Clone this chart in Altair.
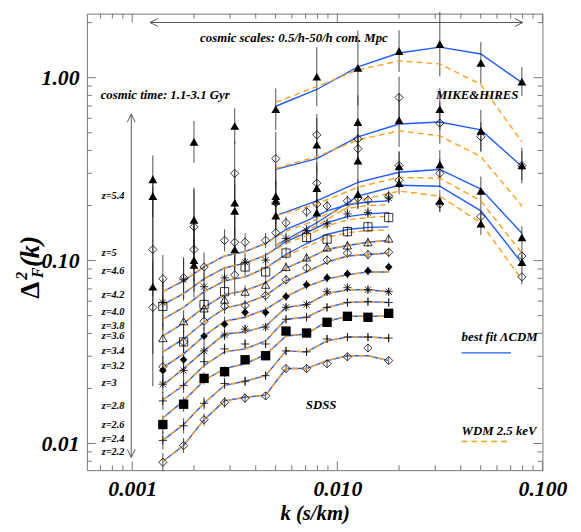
import altair as alt
import pandas as pd

W, H = 462, 463
FONT = "Liberation Serif"
BLUE = "#1f5cff"
ORANGE = "#ff9f1a"

# ---------------- k values ----------------
K_SDSS = [0.00141, 0.00178, 0.00224, 0.00282, 0.00355, 0.00447,
          0.00562, 0.00708, 0.00891, 0.0112, 0.0141, 0.0178]
K_HR = [0.00126, 0.00200, 0.00316, 0.00501, 0.00794,
        0.0126, 0.0200, 0.0316, 0.0501, 0.0794]
K_HR_MODEL = [0.00501, 0.00794, 0.0126, 0.0200, 0.0316, 0.0501, 0.0794]

# ---------------- SDSS models (best fit LCDM) ----------------
LCDM_Z22 = [0.0080, 0.00975, 0.0135, 0.0171, 0.0179, 0.0184, 0.0257, 0.0257, 0.0284, 0.0302, 0.0302, 0.0284]
LCDM_Z24 = [0.0104, 0.0127, 0.0166, 0.0208, 0.0219, 0.0235, 0.0321, 0.0317, 0.0364, 0.0382, 0.0382, 0.0377]
LCDM_Z26 = [0.0138, 0.0171, 0.0221, 0.0257, 0.0273, 0.0306, 0.0387, 0.0397, 0.0466, 0.0496, 0.0496, 0.0496]
LCDM_Z28 = [0.0173, 0.0208, 0.0267, 0.0317, 0.0329, 0.0364, 0.0478, 0.0490, 0.0555, 0.0590, 0.0597, 0.0590]
LCDM_Z30 = [0.0208, 0.0257, 0.0321, 0.0397, 0.0407, 0.0438, 0.0555, 0.0575, 0.0660, 0.0693, 0.0693, 0.0676]
LCDM_Z32 = [0.0260, 0.0309, 0.0387, 0.0466, 0.0490, 0.0541, 0.0636, 0.0720, 0.0795, 0.0835, 0.0867, 0.0867]
LCDM_Z34 = [0.0317, 0.0373, 0.0460, 0.0548, 0.0583, 0.0644, 0.0775, 0.0867, 0.0981, 0.106, 0.108, 0.110]
LCDM_Z36 = [0.0387, 0.0455, 0.0555, 0.0652, 0.0685, 0.0756, 0.0911, 0.102, 0.115, 0.121, 0.126, 0.129]
LCDM_Z38 = [0.0478, 0.0555, 0.0676, 0.0775, 0.0815, 0.0911, 0.108, 0.124, 0.139, 0.148, 0.152, 0.153]
LCDM_Z40 = [0.0575, 0.0660, 0.0795, 0.0911, 0.0969, 0.107, 0.127, 0.142, 0.161, 0.174, 0.180, 0.183]
LCDM_Z42 = [0.0676, 0.0775, 0.0923, 0.106, 0.112, 0.124, 0.148, 0.165, 0.187, 0.202, 0.209, 0.212]

# SDSS models (WDM 2.5 keV) - almost identical, small suppression at high z
WDM_Z38 = [0.0478, 0.0555, 0.0676, 0.0775, 0.0815, 0.0911, 0.106, 0.119, 0.134, 0.142, 0.146, 0.147]
WDM_Z40 = [0.0575, 0.0660, 0.0795, 0.0911, 0.0969, 0.107, 0.124, 0.137, 0.155, 0.167, 0.172, 0.175]
WDM_Z42 = [0.0676, 0.0775, 0.0923, 0.106, 0.112, 0.124, 0.145, 0.159, 0.180, 0.193, 0.200, 0.202]

# ---------------- MIKE & HIRES models ----------------
LCDM_HR_Z54 = [0.698, 0.862, 1.146, 1.364, 1.469, 1.347, 0.940]
LCDM_HR_Z50 = [0.315, 0.361, 0.475, 0.558, 0.572, 0.518, 0.327]
LCDM_HR_Z46 = [0.176, 0.212, 0.268, 0.304, 0.315, 0.246, 0.141]
LCDM_HR_Z42 = [0.121, 0.161, 0.225, 0.258, 0.255, 0.187, 0.0969]
WDM_HR_Z54 = [0.733, 0.894, 1.104, 1.235, 1.190, 0.917, 0.446]
WDM_HR_Z50 = [0.319, 0.370, 0.457, 0.512, 0.481, 0.370, 0.199]
WDM_HR_Z46 = [0.176, 0.204, 0.252, 0.285, 0.282, 0.212, 0.110]
WDM_HR_Z42 = [0.121, 0.155, 0.212, 0.240, 0.225, 0.161, 0.0785]

# ---------------- SDSS data points ----------------
SDSS_Z22 = [0.0079, 0.00975, 0.0135, 0.0168, 0.0177, 0.0182, 0.0257, 0.0257, 0.0273, 0.0298, 0.0333, 0.0284]
SDSS_Z24 = [0.0104, 0.0125, 0.0166, 0.0213, 0.0219, 0.0235, 0.0321, 0.0317, 0.0373, 0.0382, 0.0382, 0.0377]
SDSS_Z26 = [0.0127, 0.0164, 0.0227, 0.0247, 0.0287, 0.0302, 0.0412, 0.0402, 0.0460, 0.0496, 0.0490, 0.0515]
SDSS_Z28 = [0.0171, 0.0208, 0.0280, 0.0329, 0.0350, 0.0350, 0.0478, 0.0490, 0.0555, 0.0590, 0.0597, 0.0590]
SDSS_Z30 = [0.0211, 0.0251, 0.0321, 0.0392, 0.0422, 0.0433, 0.0555, 0.0575, 0.0676, 0.0711, 0.0693, 0.0676]
SDSS_Z32 = [0.0251, 0.0287, 0.0387, 0.0449, 0.0521, 0.0521, 0.0636, 0.0738, 0.0805, 0.0846, 0.0878, 0.0923]
SDSS_Z34 = [0.0263, 0.0359, 0.0466, 0.0562, 0.0568, 0.0644, 0.0785, 0.0911, 0.1006, 0.110, 0.108, 0.111]
SDSS_Z36 = [0.0377, 0.0466, 0.0548, 0.0612, 0.0676, 0.0738, 0.0923, 0.104, 0.118, 0.121, 0.126, 0.132]
SDSS_Z38 = [0.0562, 0.0359, 0.0575, 0.0676, 0.0923, 0.0867, 0.110, 0.134, 0.131, 0.144, 0.153, 0.172]
SDSS_Z40 = [0.0590, 0.0785, 0.0720, 0.0805, 0.0981, 0.1006, 0.132, 0.146, 0.159, 0.180, 0.183, 0.220]
SDSS_Z42 = [0.0795, 0.0805, 0.0923, 0.129, 0.126, 0.129, 0.161, 0.185, 0.199, 0.212, 0.214, 0.225]
# relative 1-sigma errors
SDSS_ERR_LOW_Z = [0.12, 0.10, 0.08, 0.07, 0.06, 0.05, 0.05, 0.05, 0.05, 0.05, 0.05, 0.05]
SDSS_ERR_MID_Z = [0.20, 0.15, 0.12, 0.10, 0.08, 0.07, 0.06, 0.06, 0.06, 0.06, 0.06, 0.06]
SDSS_ERR_HIGH_Z = [0.35, 0.30, 0.20, 0.15, 0.12, 0.10, 0.08, 0.07, 0.07, 0.07, 0.07, 0.07]

# ---------------- HIRES (filled triangles) & MIKE (open diamonds) ----------------
HIRES_Z54 = [0.278, 0.446, 0.544, 0.672, 1.012, 1.132, 1.398, 1.525, 1.205, 0.951]
HIRES_Z50 = [0.225, 0.167, 0.207, 0.225, 0.430, 0.572, 0.586, 0.672, 0.512, 0.331]
HIRES_Z46 = [0.0720, 0.1006, 0.187, 0.212, 0.249, 0.352, 0.327, 0.335, 0.240, 0.134]
HIRES_Z42 = [None, 0.0946, 0.115, 0.176, 0.183, 0.231, 0.265, 0.212, 0.159, 0.0981]
MIKE_Z54 = [0.115, 0.153, 0.300, 0.361, 0.487, 0.463, 0.780, 0.565, 0.475, 0.331]
MIKE_Z50 = [0.0555, 0.115, 0.126, 0.207, 0.265, 0.409, 0.331, 0.300, 0.174, 0.106]
MIKE_Z46 = [None, None, 0.0835, 0.142, 0.204, 0.220, 0.275, 0.204, None, 0.0815]
HIRES_ERR_Z54 = [0.35, 0.30, 0.25, 0.30, 0.45, 0.60, 0.30, 0.50, 0.30, 0.20]
HIRES_ERR_Z50 = [0.30, 0.50, 0.50, 0.50, 0.40, 0.40, 0.40, 0.30, 0.30, 0.25]
HIRES_ERR_Z46 = [2.50, 0.60, 0.40, 0.30, 0.30, 0.30, 0.20, 0.20, 0.20, 0.15]
HIRES_ERR_Z42 = [None, 0.40, 0.30, 0.20, 0.20, 0.20, 0.15, 0.15, 0.15, 0.10]
MIKE_ERR_Z54 = [0.80, 0.60, 0.50, 0.40, 0.30, 0.30, 0.30, 0.30, 0.20, 0.20]
MIKE_ERR_Z50 = [0.80, 0.50, 0.40, 0.30, 0.30, 0.20, 0.20, 0.20, 0.15, 0.10]
MIKE_ERR_Z46 = [None, None, 0.30, 0.20, 0.20, 0.15, 0.10, 0.10, None, 0.10]

# ---------------- redshift labels ----------------
Z_LABELS = ["z=5.4", "z=5", "z=4.6", "z=4.2", "z=4.0", "z=3.8", "z=3.6",
            "z=3.4", "z=3.2", "z=3", "z=2.8", "z=2.6", "z=2.4", "z=2.2"]
Z_LABEL_Y = [185, 243, 261, 285, 303, 317, 327, 342, 357, 375, 398, 417, 431, 445]

# ---------------- axis ticks ----------------
X_MAJOR = [0.001, 0.01, 0.1]
X_MINOR = [0.0007, 0.0008, 0.0009, 0.002, 0.003, 0.004, 0.005, 0.006, 0.007, 0.008, 0.009,
           0.02, 0.03, 0.04, 0.05, 0.06, 0.07, 0.08, 0.09]
Y_MAJOR = [0.01, 0.1, 1.0]
Y_MINOR = [0.008, 0.009, 0.02, 0.03, 0.04, 0.05, 0.06, 0.07, 0.08, 0.09,
           0.2, 0.3, 0.4, 0.5, 0.6, 0.7, 0.8, 0.9, 2.0]

PLUS = "M-1,0L1,0M0,-1L0,1"
STAR = "M-1,0L1,0M0,-1L0,1M-0.75,-0.75L0.75,0.75M-0.75,0.75L0.75,-0.75"

# ---------------- build tables ----------------
line_rows = []
def add_line(ks, vals, name, model):
    for k, v in zip(ks, vals):
        line_rows.append(dict(k=k, v=v, s=name, model=model))

sdss_lcdm = [("2.2", LCDM_Z22), ("2.4", LCDM_Z24), ("2.6", LCDM_Z26), ("2.8", LCDM_Z28),
             ("3.0", LCDM_Z30), ("3.2", LCDM_Z32), ("3.4", LCDM_Z34), ("3.6", LCDM_Z36),
             ("3.8", LCDM_Z38), ("4.0", LCDM_Z40), ("4.2", LCDM_Z42)]
sdss_wdm = [("2.2", LCDM_Z22), ("2.4", LCDM_Z24), ("2.6", LCDM_Z26), ("2.8", LCDM_Z28),
            ("3.0", LCDM_Z30), ("3.2", LCDM_Z32), ("3.4", LCDM_Z34), ("3.6", LCDM_Z36),
            ("3.8", WDM_Z38), ("4.0", WDM_Z40), ("4.2", WDM_Z42)]
for z, vals in sdss_lcdm:
    add_line(K_SDSS, vals, "sdss" + z, "lcdm")
for z, vals in sdss_wdm:
    add_line(K_SDSS, vals, "sdss" + z, "wdm")
for z, vals in [("5.4", LCDM_HR_Z54), ("5.0", LCDM_HR_Z50), ("4.6", LCDM_HR_Z46), ("4.2", LCDM_HR_Z42)]:
    add_line(K_HR_MODEL, vals, "hr" + z, "lcdm")
for z, vals in [("5.4", WDM_HR_Z54), ("5.0", WDM_HR_Z50), ("4.6", WDM_HR_Z46), ("4.2", WDM_HR_Z42)]:
    add_line(K_HR_MODEL, vals, "hr" + z, "wdm")
lines = pd.DataFrame(line_rows)

pt_rows = []
def add_pts(ks, vals, errs, shape, filled, size):
    for k, v, e in zip(ks, vals, errs):
        if v is None:
            continue
        pt_rows.append(dict(k=k, v=v, lo=v / (1 + e), hi=v * (1 + e),
                            shape=shape, filled=filled, size=size))

add_pts(K_SDSS, SDSS_Z22, SDSS_ERR_LOW_Z, "diamond", False, 70)
add_pts(K_SDSS, SDSS_Z24, SDSS_ERR_LOW_Z, PLUS, False, 70)
add_pts(K_SDSS, SDSS_Z26, SDSS_ERR_LOW_Z, "square", True, 90)
add_pts(K_SDSS, SDSS_Z28, SDSS_ERR_LOW_Z, PLUS, False, 70)
add_pts(K_SDSS, SDSS_Z30, SDSS_ERR_LOW_Z, STAR, False, 70)
add_pts(K_SDSS, SDSS_Z32, SDSS_ERR_MID_Z, "diamond", True, 60)
add_pts(K_SDSS, SDSS_Z34, SDSS_ERR_MID_Z, "diamond", False, 70)
add_pts(K_SDSS, SDSS_Z36, SDSS_ERR_MID_Z, "triangle-up", False, 70)
add_pts(K_SDSS, SDSS_Z38, SDSS_ERR_HIGH_Z, "square", False, 70)
add_pts(K_SDSS, SDSS_Z40, SDSS_ERR_HIGH_Z, STAR, False, 70)
add_pts(K_SDSS, SDSS_Z42, SDSS_ERR_HIGH_Z, "diamond", False, 70)
add_pts(K_HR, HIRES_Z54, HIRES_ERR_Z54, "triangle-up", True, 80)
add_pts(K_HR, HIRES_Z50, HIRES_ERR_Z50, "triangle-up", True, 80)
add_pts(K_HR, HIRES_Z46, HIRES_ERR_Z46, "triangle-up", True, 80)
add_pts(K_HR, HIRES_Z42, HIRES_ERR_Z42, "triangle-up", True, 80)
add_pts(K_HR, MIKE_Z54, MIKE_ERR_Z54, "diamond", False, 70)
add_pts(K_HR, MIKE_Z50, MIKE_ERR_Z50, "diamond", False, 70)
add_pts(K_HR, MIKE_Z46, MIKE_ERR_Z46, "diamond", False, 70)
pts = pd.DataFrame(pt_rows)

xs = alt.Scale(type="log", domain=[0.000601, 0.1], nice=False)
ys = alt.Scale(type="log", domain=[0.00715, 2.24], nice=False)

# one shared axis definition, used by every layer so that they merge cleanly
x_axis = alt.Axis(values=X_MAJOR, labelExpr="format(datum.value, '.3f')", ticks=False,
                  domain=False, grid=False, labelFont=FONT, labelFontSize=22,
                  labelFontWeight="bold", labelFontStyle="italic", labelColor="black",
                  labelPadding=9, labelFlush=False, title="k (s/km)", titleFont=FONT,
                  titleFontSize=21, titleFontWeight="bold", titleFontStyle="italic",
                  titleColor="black", titlePadding=3)
y_axis = alt.Axis(values=Y_MAJOR, labelExpr="format(datum.value, '.2f')", ticks=False,
                  domain=False, grid=False, labelFont=FONT, labelFontSize=22,
                  labelFontWeight="bold", labelFontStyle="italic", labelColor="black",
                  labelPadding=8, labelFlush=False, title="")

X = alt.X("k:Q", scale=xs, axis=x_axis, title="k (s/km)")
Y = alt.Y("v:Q", scale=ys, axis=y_axis, title="")

lcdm = alt.Chart(lines).transform_filter("datum.model == 'lcdm'").mark_line(
    color=BLUE, strokeWidth=1.4).encode(x=X, y=Y, detail="s:N")
wdm = alt.Chart(lines).transform_filter("datum.model == 'wdm'").mark_line(
    color=ORANGE, strokeWidth=1.4, strokeDash=[6, 4]).encode(x=X, y=Y, detail="s:N")

err = alt.Chart(pts).mark_rule(color="#222", strokeWidth=0.8).encode(
    x=X, y=alt.Y("lo:Q", scale=ys, axis=y_axis, title=""), y2="hi:Q")

open_pts = alt.Chart(pts).transform_filter("!datum.filled").mark_point(
    filled=False, color="black", strokeWidth=0.8, opacity=1).encode(
    x=X, y=Y, shape=alt.Shape("shape:N", scale=None),
    size=alt.Size("size:Q", scale=None))
fill_pts = alt.Chart(pts).transform_filter("datum.filled").mark_point(
    filled=True, color="black", opacity=1).encode(
    x=X, y=Y, shape=alt.Shape("shape:N", scale=None),
    size=alt.Size("size:Q", scale=None))

# ticks (inward, on all four sides)
xmaj = pd.DataFrame({"k": X_MAJOR})
xmin = pd.DataFrame({"k": X_MINOR})
ymaj = pd.DataFrame({"v": Y_MAJOR})
ymin = pd.DataFrame({"v": Y_MINOR})
TC = "#777"
def xticks(df, L):
    b = alt.Chart(df).mark_rule(color=TC, strokeWidth=1).encode(
        x=X, y=alt.value(H), y2=alt.value(H - L))
    t = alt.Chart(df).mark_rule(color=TC, strokeWidth=1).encode(
        x=X, y=alt.value(0), y2=alt.value(L))
    return b + t
def yticks(df, L):
    l = alt.Chart(df).mark_rule(color=TC, strokeWidth=1).encode(
        y=Y, x=alt.value(0), x2=alt.value(L))
    r = alt.Chart(df).mark_rule(color=TC, strokeWidth=1).encode(
        y=Y, x=alt.value(W), x2=alt.value(W - L))
    return l + r
ticks = xticks(xmaj, 9) + xticks(xmin, 5) + yticks(ymaj, 9) + yticks(ymin, 5)

one = pd.DataFrame({"a": [0]})
def txt(s, x, y, size=13, align="left", weight="bold", style="italic", angle=0, baseline="middle", color="black"):
    return alt.Chart(one).mark_text(text=s, font=FONT, fontSize=size, fontWeight=weight,
                                    fontStyle=style, align=align, baseline=baseline,
                                    angle=angle, color=color).encode(
        x=alt.value(x), y=alt.value(y))

texts = (txt("cosmic scales: 0.5/h-50/h com. Mpc", 210, 25, align="center")
         + txt("cosmic time: 1.1-3.1 Gyr", 14, 83)
         + txt("MIKE&HIRES", 354, 83)
         + txt("SDSS", 222, 397)
         + txt("best fit \u039bCDM", 380, 328)
         + txt("WDM 2.5 keV", 380, 423))
for lab, yy in zip(Z_LABELS, Z_LABEL_Y):
    texts = texts + txt(lab, 15, yy, size=10.5)

# y title  Delta^2_F(k)  (rotated, built from pieces for super/subscript)
ytitle = (txt("\u0394", -57, 289, size=27, angle=270, style="normal")
          + txt("2", -66, 270, size=16, angle=270)
          + txt("F", -49, 268, size=16, angle=270)
          + txt("(k)", -57, 257, size=27, angle=270))

# arrows and legend samples
AC = "#444"
def seg(x1, y1, x2, y2, color=AC, width=0.9, dash=None):
    kw = dict(color=color, strokeWidth=width)
    if dash:
        kw["strokeDash"] = dash
    return alt.Chart(one).mark_rule(**kw).encode(
        x=alt.value(x1), y=alt.value(y1), x2=alt.value(x2), y2=alt.value(y2))
def head(x, y, path):
    return alt.Chart(one).mark_point(shape=path, filled=False, color=AC, strokeWidth=0.9,
                                     size=64, opacity=1).encode(x=alt.value(x), y=alt.value(y))

arrows = (seg(64, 9, 442, 9) + head(68, 9, "M1,-1L-1,0L1,1") + head(438, 9, "M-1,-1L1,0L-1,1")
          + seg(45, 102, 45, 450) + head(45, 106, "M-1,1L0,-1L1,1") + head(45, 446, "M-1,-1L0,1L1,-1"))
legend = (seg(380, 344, 430, 344, color=BLUE, width=1.4)
          + seg(380, 434, 430, 434, color=ORANGE, width=1.4, dash=[6, 4]))

chart = alt.layer(lcdm, err, wdm, open_pts, fill_pts, ticks, texts, ytitle, arrows, legend).properties(
    width=W, height=H,
    autosize=alt.AutoSizeParams(type="none"),
    padding={"left": 80, "top": 2, "right": 31, "bottom": 58},
    background="white",
).configure_view(stroke="#777", strokeWidth=1)

chart.save("out.html", embed_options={"renderer": "svg", "actions": False})
